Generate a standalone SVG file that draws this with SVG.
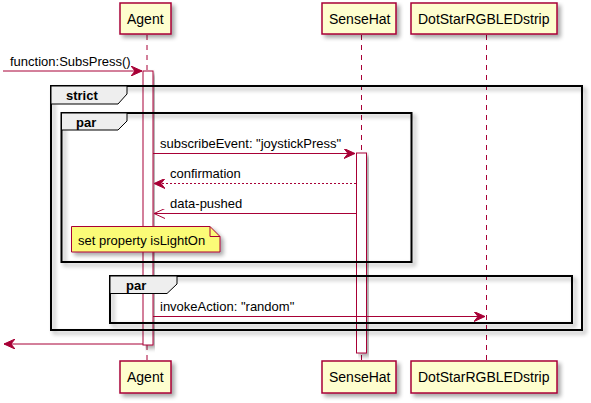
<svg xmlns="http://www.w3.org/2000/svg" width="591" height="403" viewBox="0 0 591 403">
<defs>
<filter id="sh" x="-10%" y="-10%" width="130%" height="140%">
<feGaussianBlur in="SourceAlpha" stdDeviation="2"/>
<feOffset dx="3" dy="3" result="b"/>
<feComponentTransfer><feFuncA type="linear" slope="0.35"/></feComponentTransfer>
<feMerge><feMergeNode/><feMergeNode in="SourceGraphic"/></feMerge>
</filter>
<marker id="fill" viewBox="0 0 12 10" refX="11" refY="5" markerWidth="12" markerHeight="10" markerUnits="userSpaceOnUse" orient="auto">
<path d="M0,0 L11,5 L0,10 L4,5 Z" fill="#A80036" stroke="#A80036" stroke-width="1"/>
</marker>
<marker id="open" viewBox="0 0 12 10" refX="11" refY="5" markerWidth="12" markerHeight="10" markerUnits="userSpaceOnUse" orient="auto">
<path d="M0,0 L11,5 L0,10" fill="none" stroke="#A80036" stroke-width="1"/>
</marker>
</defs>
<style>
.part rect{fill:#FEFECE;stroke:#A80036;stroke-width:1.5}
.pt{font-family:"Liberation Sans",Arial,sans-serif;font-size:14px;fill:#000}
.life{stroke:#A80036;stroke-width:1;stroke-dasharray:5,5;fill:none}
.act{fill:#FFFFFF;stroke:#A80036;stroke-width:1}
.msg{stroke:#A80036;stroke-width:1;fill:none}
.mt{font-family:"Liberation Sans",Arial,sans-serif;font-size:13px;fill:#000}
.frame{fill:none;stroke:#000;stroke-width:2}
.tab{fill:#EEEEEE;stroke:#000;stroke-width:1}
.ft{font-family:"Liberation Sans",Arial,sans-serif;font-size:13px;font-weight:bold;fill:#000}
</style>
<rect width="591" height="403" fill="#FFFFFF"/>

<g id="lifelines">
<line class="life" x1="147" y1="35" x2="147" y2="361"/>
<line class="life" x1="361.5" y1="35" x2="361.5" y2="361"/>
<line class="life" x1="486.5" y1="35" x2="486.5" y2="361"/>
</g>

<g id="Agent" class="part">
<rect x="120" y="3" width="51" height="31" filter="url(#sh)"/>
<text class="pt" x="127" y="24">Agent</text>
<rect x="120" y="361" width="51" height="32" filter="url(#sh)"/>
<text class="pt" x="127" y="382">Agent</text>
</g>
<g id="SenseHat" class="part">
<rect x="322" y="3" width="74" height="31" filter="url(#sh)"/>
<text class="pt" x="329" y="24">SenseHat</text>
<rect x="322" y="361" width="74" height="32" filter="url(#sh)"/>
<text class="pt" x="329" y="382">SenseHat</text>
</g>
<g id="DotStarRGBLEDstrip" class="part">
<rect x="411" y="3" width="146" height="31" filter="url(#sh)"/>
<text class="pt" x="418" y="24">DotStarRGBLEDstrip</text>
<rect x="411" y="361" width="146" height="32" filter="url(#sh)"/>
<text class="pt" x="418" y="382">DotStarRGBLEDstrip</text>
</g>

<g id="activations">
<rect class="act" x="143" y="71" width="10" height="274" filter="url(#sh)"/>
<rect class="act" x="356.5" y="153" width="10" height="200" filter="url(#sh)"/>
</g>

<g id="strict">
<rect class="frame" x="51" y="86" width="531" height="244" filter="url(#sh)"/>
<path class="tab" d="M51,86 L127,86 L127,94 L118,104 L51,104 Z"/>
<text class="ft" x="66" y="100">strict</text>
</g>

<g id="par1">
<rect class="frame" x="61.5" y="113" width="350" height="149" filter="url(#sh)"/>
<path class="tab" d="M61.5,113 L127,113 L127,121 L118,130 L61.5,130 Z"/>
<text class="ft" x="76" y="127">par</text>
</g>

<g id="par2">
<rect class="frame" x="110" y="276" width="462" height="47" filter="url(#sh)"/>
<path class="tab" d="M110,276 L177,276 L177,284 L167,293.5 L110,293.5 Z"/>
<text class="ft" x="126" y="290">par</text>
</g>

<g id="note">
<path d="M71.5,226.5 L210,226.5 L220,236.5 L220,252 L71.5,252 Z" fill="#FBFB77" stroke="#A80036" stroke-width="1" filter="url(#sh)"/>
<path d="M210,226.5 L210,236.5 L220,236.5" fill="none" stroke="#A80036" stroke-width="1"/>
<text class="mt" x="78" y="245">set property isLightOn</text>
</g>

<g id="connectors">
<line class="msg" x1="3" y1="71" x2="142" y2="71" marker-end="url(#fill)"/>
<text class="mt" x="10" y="66">function:SubsPress()</text>
<line class="msg" x1="153" y1="153.5" x2="355" y2="153.5" marker-end="url(#fill)"/>
<text class="mt" x="160" y="148">subscribeEvent: "joystickPress"</text>
<line class="msg" x1="356" y1="183.5" x2="154" y2="183.5" stroke-dasharray="2,2" marker-end="url(#fill)"/>
<text class="mt" x="170" y="178">confirmation</text>
<line class="msg" x1="356" y1="213.5" x2="154" y2="213.5" marker-end="url(#open)"/>
<text class="mt" x="170" y="208">data-pushed</text>
<line class="msg" x1="153" y1="316.5" x2="485" y2="316.5" marker-end="url(#fill)"/>
<text class="mt" x="160" y="311">invokeAction: "random"</text>
<line class="msg" x1="143" y1="344" x2="4" y2="344" marker-end="url(#fill)"/>
</g>
</svg>
